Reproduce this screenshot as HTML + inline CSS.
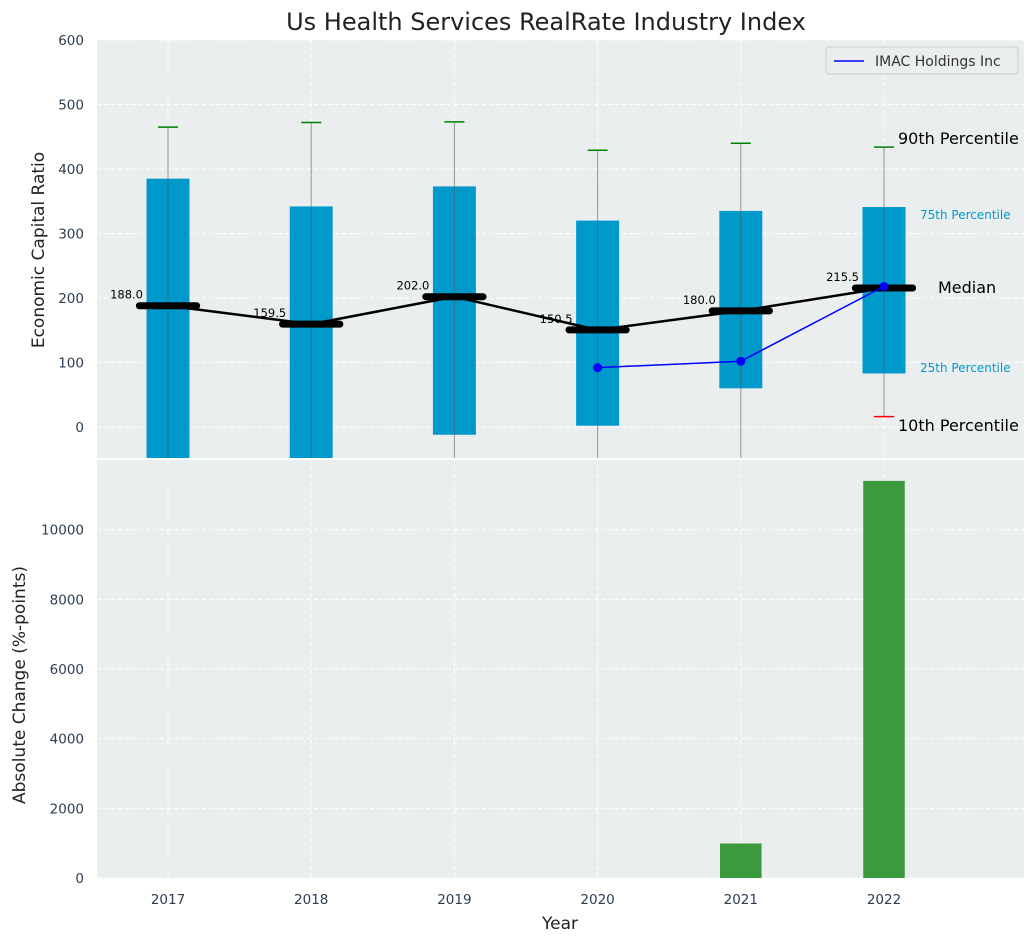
<!DOCTYPE html>
<html><head><meta charset="utf-8"><style>
body{margin:0;background:#fff;font-family:"DejaVu Sans","Liberation Sans",sans-serif}
svg text{font-family:"DejaVu Sans","Liberation Sans",sans-serif}
</style></head><body>
<svg id="c" width="1035" height="942" xmlns="http://www.w3.org/2000/svg"></svg>
<script>
const years=[2017,2018,2019,2020,2021,2022];
const p90=[465,472,473,429,440,434];
const p75=[385,342,373,320,335,341];
const medians=[188,159.5,202,150.5,180,215.5];
const p25=[-80,-70,-12,2,60,83];
const p10=[-150,-150,-120,-100,-110,16];
const imacYears=[2020,2021,2022];
const imacVals=[92,102,218];
const barYears=[2021,2022];
const barVals=[990,11400];
const topTicks=[0,100,200,300,400,500,600];
const botTicks=[0,2000,4000,6000,8000,10000];

const svg=document.getElementById('c');
const NS='http://www.w3.org/2000/svg';
function el(t,a,p){const e=document.createElementNS(NS,t);for(const k in a)e.setAttribute(k,a[k]);(p||svg).appendChild(e);return e;}
const L=97,R=1024,T1=40,B1=458,T2=460,B2=878;
const ux=143.2;
const xs=v=>168+(v-2017)*ux;
const y1=v=>427-v*0.645;
const y2=v=>B2-v*(B2-T2)/12000;

let r=el('rect',{x:L,y:T1,width:R-L,height:B1-T1,fill:'#ebeeee'});

r=el('rect',{x:L,y:T2,width:R-L,height:B2-T2,fill:'#ebeeee'});


const clipD=el('defs',{});
const cp=el('clipPath',{id:'cp1'},clipD);el('rect',{x:L,y:T1,width:R-L,height:B1-T1},cp);
const g1=el('g',{'clip-path':'url(#cp1)'});

years.forEach(y=>{
  let g=el('line',{x1:xs(y),x2:xs(y),y1:T1,y2:B1,stroke:'#fff','stroke-dasharray':'4,3'},g1);
  
  g=el('line',{x1:xs(y),x2:xs(y),y1:T2,y2:B2,stroke:'#fff','stroke-dasharray':'4,3'});
  
  const t=el('text',{x:xs(y),y:904,'text-anchor':'middle','font-size':13.5,fill:'#2c3e50'});t.textContent=y;
  
});
topTicks.forEach(v=>{
  const g=el('line',{x1:L,x2:R,y1:y1(v),y2:y1(v),stroke:'#fff','stroke-dasharray':'4,3'},g1);
  
  const t=el('text',{x:84,y:y1(v)+5,'text-anchor':'end','font-size':13.5,fill:'#2c3e50'});t.textContent=v;
  
});
botTicks.forEach(v=>{
  const g=el('line',{x1:L,x2:R,y1:y2(v),y2:y2(v),stroke:'#fff','stroke-dasharray':'4,3'});
  
  const t=el('text',{x:84,y:y2(v)+5,'text-anchor':'end','font-size':13.5,fill:'#2c3e50'});t.textContent=v;
  
});

years.forEach((y,i)=>{
  const x=xs(y),w=0.3*ux;
  const b=el('rect',{x:x-w/2,y:y1(p75[i]),width:w,height:y1(p25[i])-y1(p75[i]),fill:'#0099cc'},g1);
  
  const wl=el('line',{x1:x,x2:x,y1:y1(p90[i]),y2:y1(p10[i]),stroke:'#555','stroke-opacity':0.6,'stroke-width':1},g1);
  
  const c1=el('line',{x1:x-10,x2:x+10,y1:y1(p90[i]),y2:y1(p90[i]),stroke:'green','stroke-width':1.5},g1);
  
  const c2=el('line',{x1:x-10,x2:x+10,y1:y1(p10[i]),y2:y1(p10[i]),stroke:'red','stroke-width':1.5},g1);
  
});
let pts=years.map((y,i)=>xs(y)+','+y1(medians[i])).join(' ');
let pl=el('polyline',{points:pts,fill:'none',stroke:'#000','stroke-width':2.5},g1);

years.forEach((y,i)=>{
  const m=el('line',{x1:xs(y)-0.2*ux,x2:xs(y)+0.2*ux,y1:y1(medians[i]),y2:y1(medians[i]),stroke:'#000','stroke-width':7,'stroke-linecap':'round'},g1);
  
  const t=el('text',{x:xs(y)-25,y:y1(medians[i])-7,'text-anchor':'end','font-size':11.5,fill:'#000'},g1);t.textContent=medians[i].toFixed(1);
  
});
pts=imacYears.map((y,i)=>xs(y)+','+y1(imacVals[i])).join(' ');
pl=el('polyline',{points:pts,fill:'none',stroke:'blue','stroke-width':1.5},g1);

imacYears.forEach((y,i)=>{const c=el('circle',{cx:xs(y),cy:y1(imacVals[i]),r:4.5,fill:'blue'},g1);
  });

const ann=[['90th Percentile',898,144,16,'#000'],['75th Percentile',920,219,12,'#0099cc'],['Median',938,293,16,'#000'],['25th Percentile',920,372,12,'#0099cc'],['10th Percentile',898,431,16,'#000']];
ann.forEach(a=>{const t=el('text',{x:a[1],y:a[2],'font-size':a[3],fill:a[4]});t.textContent=a[0];
  });

barYears.forEach((y,i)=>{const w=0.29*ux;
  const b=el('rect',{x:xs(y)-w/2,y:y2(barVals[i]),width:w,height:B2-y2(barVals[i]),fill:'#3a9a3d'});
  });

const lg=el('g',{});
el('rect',{x:826,y:47,width:192,height:27,rx:3,fill:'#ebeeee',stroke:'#ccc'},lg);
el('line',{x1:834,x2:864,y1:61,y2:61,stroke:'blue','stroke-width':1.5},lg);
let t=el('text',{x:875,y:66,'font-size':14,fill:'#333'},lg);t.textContent='IMAC Holdings Inc';

t=el('text',{x:546,y:30,'text-anchor':'middle','font-size':24,fill:'#222'});t.textContent='Us Health Services RealRate Industry Index';

t=el('text',{x:0,y:0,'text-anchor':'middle','font-size':17,fill:'#222',transform:'translate(44,250) rotate(-90)'});t.textContent='Economic Capital Ratio';

t=el('text',{x:0,y:0,'text-anchor':'middle','font-size':17,fill:'#222',transform:'translate(25,685) rotate(-90)'});t.textContent='Absolute Change (%-points)';

t=el('text',{x:560,y:929,'text-anchor':'middle','font-size':17,fill:'#222'});t.textContent='Year';

</script>
</body></html>
